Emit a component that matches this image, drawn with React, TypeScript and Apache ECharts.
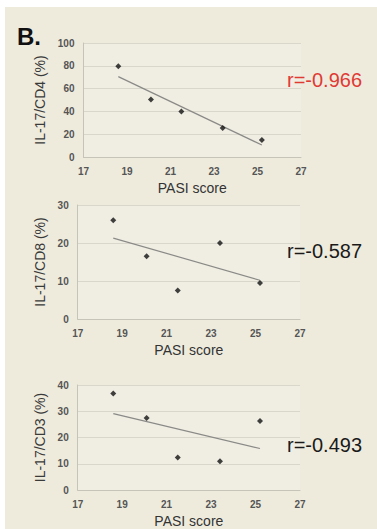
import React, { useEffect, useRef } from "react";
import * as echarts from "echarts";

const pasi = [18.6, 20.1, 21.5, 23.4, 25.2];
const cd4 = [79.5, 50.5, 40, 25.5, 15];
const cd8 = [26, 16.5, 7.5, 20, 9.5];
const cd3 = [36.8, 27.4, 12.4, 11, 26.3];

const trendX = [18.6, 25.2];
const trendCd4 = [70.5, 10.5];
const trendCd8 = [21.3, 10.2];
const trendCd3 = [29.1, 15.8];

const yNames = ["IL-17/CD4 (%)", "IL-17/CD8 (%)", "IL-17/CD3 (%)"];
const yMax = [100, 30, 40];
const yStep = [20, 10, 10];
const rTexts = ["r=-0.966", "r=-0.587", "r=-0.493"];
const rColors = ["#e03a34", "#1a1a1a", "#1a1a1a"];
const xName = "PASI score";
const panelLabel = "B.";

const FONT = "'Liberation Sans', Arial, sans-serif";

export default function App() {
  const ref = useRef<HTMLDivElement>(null);

  useEffect(() => {
    if (!ref.current) return;
    const chart = echarts.init(ref.current, null, { renderer: "svg" });

    const grids = [
      { left: 83.5, top: 43, width: 217.5, height: 114 },
      { left: 77.7, top: 205, width: 222.3, height: 114 },
      { left: 77.7, top: 385, width: 222.3, height: 113 },
    ];
    const values = [cd4, cd8, cd3];
    const trends = [trendCd4, trendCd8, trendCd3];
    const rY = [79.5, 251, 444.5];

    const option: any = {
      animation: false,
      backgroundColor: "transparent",
      grid: grids.map((g) => ({
        ...g,
        show: true,
        backgroundColor: "#f0ede3",
        borderWidth: 0,
        containLabel: false,
      })),
      xAxis: grids.map((_, i) => ({
        type: "value",
        gridIndex: i,
        min: 17,
        max: 27,
        interval: 1,
        name: xName,
        nameLocation: "middle",
        nameGap: 24,
        nameTextStyle: { fontFamily: FONT, fontSize: 14, color: "#333" },
        axisLine: { show: true, lineStyle: { color: "#c6c3b8", width: 1 } },
        axisTick: { show: false },
        splitLine: { show: false },
        axisLabel: {
          margin: 9,
          fontFamily: FONT,
          fontSize: 10,
          fontWeight: "bold",
          color: "#555",
          formatter: (v: number) => ((Math.round(v) - 17) % 2 === 0 ? String(Math.round(v)) : ""),
        },
      })),
      yAxis: grids.map((_, i) => ({
        type: "value",
        gridIndex: i,
        min: 0,
        max: yMax[i],
        interval: yStep[i],
        name: yNames[i],
        nameLocation: "middle",
        nameGap: 25,
        nameTextStyle: { fontFamily: FONT, fontSize: 14, color: "#3a3a3a" },
        axisLine: { show: true, lineStyle: { color: "#c6c3b8", width: 1 } },
        axisTick: { show: false },
        splitLine: { show: true, lineStyle: { color: "#d9d6cb", width: 1 } },
        axisLabel: {
          margin: 9,
          fontFamily: FONT,
          fontSize: 10,
          fontWeight: "bold",
          color: "#555",
        },
      })),
      series: [
        ...values.map((vals, i) => ({
          type: "line",
          xAxisIndex: i,
          yAxisIndex: i,
          data: trendX.map((x, j) => [x, trends[i][j]]),
          showSymbol: false,
          symbol: "none",
          lineStyle: { color: "#8a8a86", width: 1.2 },
          z: 2,
        })),
        ...values.map((vals, i) => ({
          type: "scatter",
          xAxisIndex: i,
          yAxisIndex: i,
          data: pasi.map((x, j) => [x, vals[j]]),
          symbol: "diamond",
          symbolSize: 6,
          itemStyle: { color: "#111" },
          z: 3,
        })),
      ],
      graphic: [
        {
          type: "text",
          left: 17,
          top: 24,
          style: {
            text: panelLabel,
            fontFamily: FONT,
            fontSize: 24,
            fontWeight: "bold",
            fill: "#111",
          },
        },
        ...rTexts.map((t, i) => ({
          type: "text",
          x: 287,
          y: rY[i],
          style: {
            text: t,
            fontFamily: FONT,
            fontSize: 20,
            fill: rColors[i],
            textAlign: "left",
            textVerticalAlign: "middle",
          },
        })),
      ],
    };

    chart.setOption(option);
    return () => chart.dispose();
  }, []);

  return (
    <div
      style={{
        position: "fixed",
        left: 0,
        top: 0,
        width: 377,
        height: 529,
        background: "#ffffff",
        overflow: "hidden",
      }}
    >
      <div
        style={{
          position: "absolute",
          left: 5,
          top: 7,
          right: 0,
          bottom: 0,
          background: "#eeebdd",
        }}
      />
      <div ref={ref} style={{ position: "absolute", left: 0, top: 0, width: 377, height: 529 }} />
    </div>
  );
}
